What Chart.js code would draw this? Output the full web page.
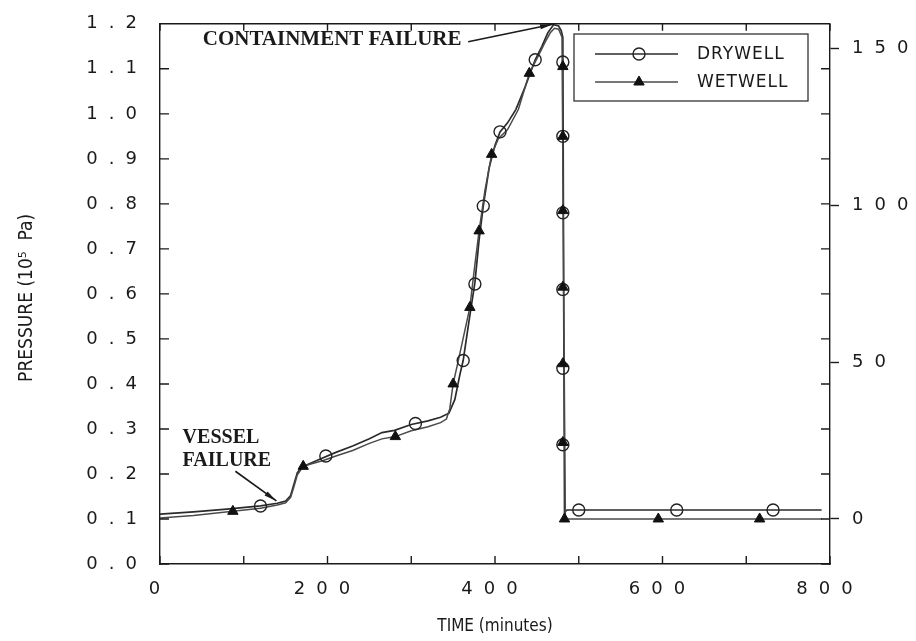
<!DOCTYPE html>
<html>
<head>
<meta charset="utf-8">
<script src="https://cdn.jsdelivr.net/npm/chart.js@4.4.1/dist/chart.umd.min.js"></script>
<style>
  html, body { margin: 0; padding: 0; background: #fff; }
  #wrap { width: 916px; height: 641px; }
</style>
</head>
<body>
<div id="wrap"><canvas id="chart" width="916" height="641"></canvas></div>
<script>
// drywell pressure curve (minutes, 10^5 Pa)
var dryTime = [0, 40, 80, 120, 140, 150, 156, 160, 164, 168, 175, 190, 210, 230, 250, 265, 280, 300, 320, 335, 345, 352, 358, 362, 369, 376, 381, 386, 393, 400, 406, 415, 425, 436, 448, 456, 463, 470, 476, 479, 481, 482, 483, 486, 790];
var dryPressure = [0.111, 0.116, 0.122, 0.129, 0.135, 0.140, 0.152, 0.178, 0.203, 0.212, 0.220, 0.232, 0.248, 0.262, 0.278, 0.292, 0.297, 0.310, 0.318, 0.326, 0.335, 0.365, 0.420, 0.452, 0.540, 0.625, 0.720, 0.795, 0.880, 0.930, 0.960, 0.980, 1.010, 1.060, 1.120, 1.150, 1.180, 1.198, 1.195, 1.185, 1.170, 0.600, 0.115, 0.120, 0.120];

// wetwell pressure curve
var wetTime = [0, 40, 87, 120, 140, 150, 156, 160, 164, 171, 180, 195, 210, 230, 250, 265, 281, 300, 320, 335, 342, 346, 350, 356, 363, 370, 375, 381, 388, 396, 404, 415, 428, 441, 452, 460, 466, 471, 476, 480, 482, 484, 790];
var wetPressure = [0.102, 0.108, 0.117, 0.124, 0.131, 0.136, 0.148, 0.172, 0.198, 0.217, 0.222, 0.230, 0.240, 0.252, 0.268, 0.278, 0.283, 0.296, 0.305, 0.314, 0.322, 0.345, 0.400, 0.450, 0.510, 0.570, 0.650, 0.740, 0.830, 0.910, 0.945, 0.965, 1.010, 1.090, 1.130, 1.160, 1.180, 1.190, 1.188, 1.170, 0.600, 0.100, 0.100];

// plotted symbols
var dryMarkTime = [120, 198, 305, 362, 376, 386, 406, 448, 481, 481, 481, 481, 481, 481, 500, 617, 732];
var dryMarkPressure = [0.129, 0.240, 0.312, 0.452, 0.622, 0.795, 0.960, 1.120, 1.115, 0.950, 0.780, 0.610, 0.435, 0.265, 0.120, 0.120, 0.120];
var wetMarkTime = [87, 171, 281, 350, 370, 381, 396, 441, 481, 481, 481, 481, 481, 481, 483, 595, 716];
var wetMarkPressure = [0.117, 0.217, 0.283, 0.400, 0.570, 0.740, 0.910, 1.090, 1.105, 0.950, 0.785, 0.615, 0.445, 0.270, 0.100, 0.100, 0.100];

var seriesNames = ["DRYWELL", "WETWELL"];
var timeTicks = [0, 100, 200, 300, 400, 500, 600, 700, 800];
var timeLabels = [0, 200, 400, 600, 800];
var pressureTicks = [0, 0.1, 0.2, 0.3, 0.4, 0.5, 0.6, 0.7, 0.8, 0.9, 1.0, 1.1, 1.2];
var rightTicks = [0, 50, 100, 150];

// the right scale is offset: 0 sits at 0.1 and 150 at about 1.145 on the left
var rightZeroAt = 0.1;
var rightTopAt = 1.145;
var rightPerUnit = (rightTopAt - rightZeroAt) / 150;

var ink = "#1a1a1a";
var tickFont = { family: "'DejaVu Sans', sans-serif", size: 18 };
var tickSpacing = "11px";
var titleFamily = "'Liberation Sans Narrow', 'DejaVu Sans Condensed', 'Liberation Sans', sans-serif";
var noteFamily = "'Liberation Serif', 'DejaVu Serif', serif";

function pairs(xs, ys) {
  return xs.map(function(x, i) {
    return { x: x, y: ys[i] };
  });
}

function fixTicks(values) {
  return function(scale) {
    scale.ticks = values.map(function(v) {
      return { value: v };
    });
  };
}

function arrow(ctx, x1, y1, x2, y2) {
  var ang = Math.atan2(y2 - y1, x2 - x1);
  ctx.beginPath();
  ctx.moveTo(x1, y1);
  ctx.lineTo(x2, y2);
  ctx.stroke();
  ctx.beginPath();
  ctx.moveTo(x2, y2);
  ctx.lineTo(x2 - 13 * Math.cos(ang - 0.2), y2 - 13 * Math.sin(ang - 0.2));
  ctx.lineTo(x2 - 13 * Math.cos(ang + 0.2), y2 - 13 * Math.sin(ang + 0.2));
  ctx.closePath();
  ctx.fill();
}

// spaced-out tick lettering like the original plotter output
var spacedText = {
  id: "spacedText",
  beforeUpdate: function(chart) {
    chart.ctx.letterSpacing = tickSpacing;
  },
  beforeDraw: function(chart) {
    chart.ctx.letterSpacing = tickSpacing;
  }
};

// frame top edge, inward ticks, axis titles, notes and legend
var extras = {
  id: "extras",
  afterDraw: function(chart) {
    var ctx = chart.ctx;
    var a = chart.chartArea;
    var x = chart.scales.x;
    var y = chart.scales.y;
    ctx.save();
    ctx.letterSpacing = "0px";
    ctx.strokeStyle = ink;
    ctx.fillStyle = ink;
    ctx.lineWidth = 1.4;

    ctx.beginPath();
    ctx.moveTo(a.left, a.top);
    ctx.lineTo(a.right, a.top);
    timeTicks.forEach(function(t) {
      var px = x.getPixelForValue(t);
      ctx.moveTo(px, a.bottom);
      ctx.lineTo(px, a.bottom - 8);
      ctx.moveTo(px, a.top);
      ctx.lineTo(px, a.top + 7);
    });
    pressureTicks.forEach(function(v) {
      var py = y.getPixelForValue(v);
      ctx.moveTo(a.left, py);
      ctx.lineTo(a.left + 9, py);
      ctx.moveTo(a.right, py);
      ctx.lineTo(a.right - 9, py);
    });
    ctx.stroke();

    // axis titles
    ctx.textAlign = "center";
    ctx.textBaseline = "middle";
    ctx.font = "17px " + titleFamily;
    ctx.fillText("TIME (minutes)", (a.left + a.right) / 2, 627);
    ctx.save();
    ctx.translate(27, (a.top + a.bottom) / 2 + 4);
    ctx.rotate(-Math.PI / 2);
    ctx.font = "19px " + titleFamily;
    ctx.fillText("PRESSURE (10\u2075  Pa)", 0, 0);
    ctx.restore();

    // notes
    ctx.font = "bold 21px " + noteFamily;
    ctx.textAlign = "left";
    ctx.textBaseline = "alphabetic";
    ctx.fillText("CONTAINMENT FAILURE", x.getPixelForValue(51), y.getPixelForValue(1.152));
    ctx.font = "bold 20px " + noteFamily;
    ctx.fillText("VESSEL", x.getPixelForValue(27), y.getPixelForValue(0.268));
    ctx.fillText("FAILURE", x.getPixelForValue(27), y.getPixelForValue(0.217));
    ctx.lineWidth = 1.6;
    arrow(ctx, x.getPixelForValue(368), y.getPixelForValue(1.160), x.getPixelForValue(469), y.getPixelForValue(1.199));
    arrow(ctx, x.getPixelForValue(90), y.getPixelForValue(0.206), x.getPixelForValue(139), y.getPixelForValue(0.140));

    // legend box
    var bx = 574, by = 34, bw = 234, bh = 67;
    ctx.lineWidth = 1.3;
    ctx.strokeStyle = "#333";
    ctx.strokeRect(bx, by, bw, bh);
    ctx.font = "17px 'DejaVu Sans', sans-serif";
    ctx.letterSpacing = "1px";
    ctx.textBaseline = "middle";
    chart.data.datasets.slice(2).forEach(function(ds, i) {
      var ly = by + 20 + i * 28;
      var line = chart.data.datasets[i];
      ctx.strokeStyle = line.borderColor;
      ctx.lineWidth = line.borderWidth;
      ctx.beginPath();
      ctx.moveTo(bx + 21, ly);
      ctx.lineTo(bx + 104, ly);
      ctx.stroke();
      ctx.fillStyle = ds.backgroundColor;
      ctx.strokeStyle = ds.borderColor;
      ctx.lineWidth = ds.borderWidth;
      Chart.helpers.drawPoint(ctx, {
        pointStyle: ds.pointStyle,
        radius: ds.pointRadius,
        borderWidth: ds.borderWidth
      }, bx + 65, ly);
      ctx.fillStyle = ink;
      ctx.fillText(seriesNames[i], bx + 123, ly + 1);
    });
    ctx.restore();
  }
};

var chart = new Chart(document.getElementById("chart"), {
  type: "scatter",
  data: {
    datasets: [
      {
        label: seriesNames[0],
        data: pairs(dryTime, dryPressure),
        showLine: true,
        borderColor: "#2b2b2b",
        borderWidth: 1.7,
        pointRadius: 0,
        tension: 0,
        order: 3
      },
      {
        label: seriesNames[1],
        data: pairs(wetTime, wetPressure),
        showLine: true,
        borderColor: "#4a4a4a",
        borderWidth: 1.5,
        pointRadius: 0,
        tension: 0,
        order: 2
      },
      {
        label: seriesNames[0] + " symbols",
        data: pairs(dryMarkTime, dryMarkPressure),
        pointStyle: "circle",
        pointRadius: 6,
        borderWidth: 1.4,
        borderColor: "#222",
        backgroundColor: "rgba(255,255,255,0)",
        order: 1
      },
      {
        label: seriesNames[1] + " symbols",
        data: pairs(wetMarkTime, wetMarkPressure),
        pointStyle: "triangle",
        pointRadius: 6,
        borderWidth: 1,
        borderColor: "#111",
        backgroundColor: "#111",
        order: 0
      }
    ]
  },
  options: {
    responsive: false,
    animation: false,
    devicePixelRatio: 1,
    layout: { padding: { top: 21, left: 0, right: 0, bottom: 0 } },
    plugins: {
      legend: { display: false },
      tooltip: { enabled: false }
    },
    scales: {
      x: {
        type: "linear",
        min: 0,
        max: 800,
        afterBuildTicks: fixTicks(timeTicks),
        afterFit: function(scale) {
          scale.height = 77;
        },
        ticks: {
          color: ink,
          font: tickFont,
          padding: 15,
          maxRotation: 0,
          callback: function(v) {
            return timeLabels.indexOf(v) > -1 ? String(v) : "";
          }
        },
        grid: { drawOnChartArea: false, drawTicks: false },
        border: { display: true, color: ink, width: 1.4 }
      },
      y: {
        min: 0,
        max: 1.2,
        afterBuildTicks: fixTicks(pressureTicks),
        afterFit: function(scale) {
          scale.width = 160;
        },
        ticks: {
          color: ink,
          font: tickFont,
          padding: 12,
          callback: function(v) {
            return v.toFixed(1);
          }
        },
        grid: { drawOnChartArea: false, drawTicks: false },
        border: { display: true, color: ink, width: 1.4 }
      },
      y2: {
        position: "right",
        min: -rightZeroAt / rightPerUnit,
        max: (1.2 - rightZeroAt) / rightPerUnit,
        afterBuildTicks: fixTicks(rightTicks),
        afterFit: function(scale) {
          scale.width = 86;
        },
        ticks: { color: ink, font: tickFont, padding: 13 },
        grid: { drawOnChartArea: false, drawTicks: true, tickLength: 9, color: ink, tickWidth: 1.4 },
        border: { display: true, color: ink, width: 1.4 }
      }
    }
  },
  plugins: [spacedText, extras]
});
</script>
</body>
</html>
